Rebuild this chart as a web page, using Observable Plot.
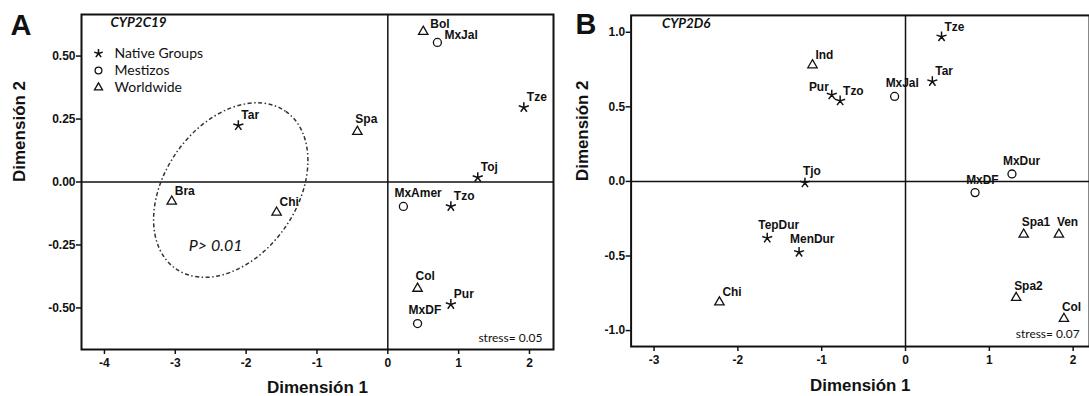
<!DOCTYPE html>
<html><head><meta charset="utf-8">
<script src="https://cdn.jsdelivr.net/npm/d3@7"></script>
<script src="https://cdn.jsdelivr.net/npm/@observablehq/plot@0.6"></script>
<style>
body{margin:0;background:#fff;}
#wrap{display:flex;width:1089px;height:396px;overflow:hidden;}
#a{width:560px;height:396px;flex:none;}
#b{width:529px;height:396px;overflow:hidden;flex:none;}
[aria-label$="axis tick"] path{stroke-width:1.5px;}
</style></head><body><div id="wrap"><div id="a"></div><div id="b"></div></div>
<script>
// ---- Panel A: CYP2C19 ----
const aNames  = ["Tar","Bra","Chi","Spa","Bol","MxJal","Tze","Toj","MxAmer","Tzo","Col","Pur","MxDF"];
const aGroups = ["Native","Worldwide","Worldwide","Worldwide","Worldwide","Mestizo","Native","Native","Mestizo","Native","Worldwide","Native","Mestizo"];
const aDim1   = [-2.11,-3.05,-1.57,-0.43,0.50,0.70,1.92,1.27,0.22,0.89,0.42,0.89,0.42];
const aDim2   = [0.224,-0.077,-0.121,0.200,0.597,0.554,0.296,0.018,-0.097,-0.097,-0.423,-0.486,-0.562];
const aLabelPos = ["ne","ne","ne","n","e","e","ne","ne","nw","ne","n","ne","nw"];
const aTicksX = [-4,-3,-2,-1,0,1,2];
const aTicksY = [-0.5,-0.25,0,0.25,0.5];
const aStress = "stress= 0.05";
const aGene = "CYP2C19";
const aEllipse = {cx: -2.21, cy: -0.034};   // centre of the dash-dot ellipse (data units)
const aPText = {x: -2.43, y: -0.252, text: "P> 0.01"};

// ---- Panel B: CYP2D6 ----
const bNames  = ["Tze","Tar","MxJal","MxDur","MxDF","Ind","Pur","Tzo","Tjo","TepDur","MenDur","Chi","Spa1","Ven","Spa2","Col"];
const bGroups = ["Native","Native","Mestizo","Mestizo","Mestizo","Worldwide","Native","Native","Native","Native","Native","Worldwide","Worldwide","Worldwide","Worldwide","Worldwide"];
const bDim1   = [0.43,0.32,-0.13,1.27,0.83,-1.11,-0.88,-0.78,-1.20,-1.65,-1.27,-2.22,1.41,1.83,1.32,1.89];
const bDim2   = [0.97,0.67,0.57,0.05,-0.075,0.78,0.58,0.54,-0.01,-0.38,-0.475,-0.81,-0.355,-0.355,-0.78,-0.92];
const bLabelPos = ["ne","ne","nw","nw","nw","ne","w","ne","n","nw","nw","ne","n","n","n","n"];
const bTicksX = [-3,-2,-1,0,1,2];
const bTicksY = [-1,-0.5,0,0.5,1];
const bStress = "stress= 0.07";
const bGene = "CYP2D6";

const legendLabels = ["Native Groups","Mestizos","Worldwide"];
const legendGroups = ["Native","Mestizo","Worldwide"];

// ---- styles ----
const INK = "#111";
const asterisk = {draw(ctx, size){ const r = Math.sqrt(size/Math.PI); for(let k=0;k<5;k++){const a=-Math.PI/2+k*2*Math.PI/5; ctx.moveTo(0,0); ctx.lineTo(r*Math.cos(a), r*Math.sin(a));} }};
const symbolFor = {Native: {symbol: asterisk, r: 5.3, sw: 1.5}, Mestizo: {symbol: "circle", r: 4, sw: 1.3}, Worldwide: {symbol: "triangle", r: 3.5, sw: 1.3}};
const labelStyle = {
  ne: {textAnchor:"start", dx:3, dy:-10},
  n:  {textAnchor:"start", dx:-2, dy:-12},
  nw: {textAnchor:"start", dx:-9, dy:-13},
  e:  {textAnchor:"start", dx:7, dy:-7},
  w:  {textAnchor:"end", dx:-3, dy:-8}
};
const CAL = "Lato, 'Open Sans', sans-serif";
const ARIAL = "'Liberation Sans', Arial, sans-serif";

function panel(cfg){
  const data = cfg.names.map((n,i)=>({name:n, group:cfg.groups[i], x:cfg.dim1[i], y:cfg.dim2[i], pos:cfg.labelPos[i]}));
  const marks = [
    Plot.frame({stroke: INK, strokeWidth: 2}),
    Plot.ruleX([0], {stroke: INK, strokeWidth: 1.5}),
    Plot.ruleY([0], {stroke: INK, strokeWidth: 1.5})
  ];
  for (const g of Object.keys(symbolFor)) {
    marks.push(Plot.dot(data.filter(d=>d.group===g), {x:"x", y:"y", symbol: symbolFor[g].symbol, r: symbolFor[g].r, fill:"none", stroke: INK, strokeWidth: symbolFor[g].sw}));
  }
  for (const p of Object.keys(labelStyle)) {
    marks.push(Plot.text(data.filter(d=>d.pos===p), {x:"x", y:"y", text:"name", ...labelStyle[p], fontSize: 12, fontWeight:"bold", fontFamily: ARIAL, fill: INK}));
  }
  // panel letter, gene name, stress, axis titles
  marks.push(Plot.text([cfg.letter], {frameAnchor:"top-left", dx: cfg.letterDx, dy: cfg.letterDy, lineAnchor:"top", textAnchor:"start", fontSize: 29, fontWeight:"bold", fontFamily: ARIAL, fill: INK}));
  marks.push(Plot.text([cfg.gene], {frameAnchor:"top-left", dx: cfg.geneDx, dy: 3, lineAnchor:"top", textAnchor:"start", fontSize: 13.5, fontWeight:"bold", fontStyle:"italic", fontFamily: CAL, fill: INK}));
  marks.push(Plot.text([cfg.stress], {frameAnchor:"bottom-right", dx: cfg.stressDx, dy: cfg.stressDy, lineAnchor:"middle", textAnchor:"end", fontSize: 12, fontWeight:"normal", fontFamily: CAL, fill: INK}));
  marks.push(Plot.text(["Dimensión 1"], {frameAnchor:"bottom", dy: cfg.xLabelDy, lineAnchor:"middle", fontSize: 17, fontWeight:"bold", fontFamily: ARIAL, fill: INK}));
  marks.push(Plot.text(["Dimensión 2"], {frameAnchor:"left", dx: cfg.yLabelDx, rotate: -90, lineAnchor:"middle", fontSize: 17, fontWeight:"bold", fontFamily: ARIAL, fill: INK}));
  if (cfg.legend) {
    cfg.legend.labels.forEach((lab, i) => {
      const s = symbolFor[cfg.legend.groups[i]];
      marks.push(Plot.dot([lab], {frameAnchor:"top-left", dx: 17, dy: 39 + i*17, symbol: s.symbol, r: s.r*0.85, fill:"none", stroke: INK, strokeWidth: s.sw}));
      marks.push(Plot.text([lab], {frameAnchor:"top-left", dx: 33, dy: 39 + i*17, lineAnchor:"middle", textAnchor:"start", fontSize: 14, fontWeight:"normal", fontFamily: CAL, fill: INK}));
    });
  }
  if (cfg.ptext) {
    marks.push(Plot.text([cfg.ptext], {x:"x", y:"y", text:"text", fontSize: 16, fontStyle:"italic", fontWeight:"normal", fontFamily: CAL, fill: INK}));
  }
  const plot = Plot.plot({
    width: cfg.width, height: 396,
    marginTop: cfg.mt, marginRight: cfg.mr, marginBottom: cfg.mb, marginLeft: cfg.ml,
    x: {domain: cfg.xDomain, ticks: cfg.ticksX, tickFormat: d => String(d), tickSize: 5, tickPadding: 4, label: null},
    y: {domain: cfg.yDomain, ticks: cfg.ticksY, tickFormat: d => d.toFixed(cfg.yDigits), tickSize: 5, tickPadding: 1, label: null},
    style: {fontFamily: ARIAL, fontSize: "12px", fontWeight: "bold", color: INK, background: "white", overflow: "visible"},
    marks
  });
  if (cfg.ellipse) {
    const sx = plot.scale("x"), sy = plot.scale("y");
    const cx = sx.apply(cfg.ellipse.cx), cy = sy.apply(cfg.ellipse.cy);
    d3.select(plot).append("ellipse")
      .attr("cx", 0).attr("cy", 0).attr("rx", 96).attr("ry", 66)
      .attr("transform", `translate(${cx},${cy}) rotate(-55)`)
      .attr("fill", "none").attr("stroke", "#333").attr("stroke-width", 1.5)
      .attr("stroke-dasharray", "4,2.5,1.5,2.5");
  }
  return plot;
}

document.getElementById("a").append(panel({
  names: aNames, groups: aGroups, dim1: aDim1, dim2: aDim2, labelPos: aLabelPos,
  width: 560, mt: 14, mr: 7, mb: 47, ml: 81,
  xDomain: [-4.324, 2.339], yDomain: [-0.665, 0.665], ticksX: aTicksX, ticksY: aTicksY, yDigits: 2,
  letter: "A", letterDx: -71, letterDy: 0, gene: aGene, geneDx: 29,
  stress: aStress, stressDx: -11, stressDy: -11, xLabelDy: 38, yLabelDx: -62,
  legend: {labels: legendLabels, groups: legendGroups}, ellipse: aEllipse, ptext: aPText
}));
document.getElementById("b").append(panel({
  names: bNames, groups: bGroups, dim1: bDim1, dim2: bDim2, labelPos: bLabelPos,
  width: 532, mt: 15, mr: 0, mb: 48, ml: 71,
  xDomain: [-3.274, 2.195], yDomain: [-1.107, 1.113], ticksX: bTicksX, ticksY: bTicksY, yDigits: 1,
  letter: "B", letterDx: -56, letterDy: -2, gene: bGene, geneDx: 31,
  stress: bStress, stressDx: -10, stressDy: -12, xLabelDy: 39, yLabelDx: -49
}));
</script></body></html>
